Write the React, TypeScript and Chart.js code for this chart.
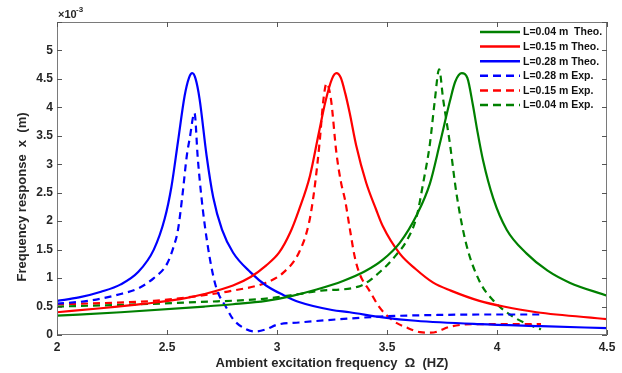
import React, { useEffect, useRef } from "react";
import { Chart, registerables } from "chart.js";

Chart.register(...registerables);

// Axis ticks (y values in units of 1e-3 m)
const xTickValues = [2, 2.5, 3, 3.5, 4, 4.5];
const yTickValues = [0, 0.5, 1, 1.5, 2, 2.5, 3, 3.5, 4, 4.5, 5, 5.5];

// L = 0.04 m theoretical
const theo004X = [2.0, 2.29, 2.67, 2.8, 2.95, 3.06, 3.18, 3.3, 3.4, 3.48, 3.558, 3.634, 3.695, 3.74, 3.786, 3.81, 3.84, 3.865, 3.89, 3.91, 3.937, 3.983, 4.044, 4.135, 4.23, 4.33, 4.5];
const theo004Y = [0.34, 0.4, 0.5, 0.54, 0.6, 0.68, 0.8, 0.95, 1.12, 1.32, 1.62, 2.1, 2.66, 3.36, 4.11, 4.45, 4.6, 4.52, 4.05, 3.6, 3.06, 2.4, 1.85, 1.43, 1.13, 0.92, 0.69];

// L = 0.15 m theoretical
const theo015X = [2.0, 2.2, 2.4, 2.56, 2.67, 2.8, 2.88, 2.95, 3.01, 3.06, 3.1, 3.15, 3.19, 3.22, 3.25, 3.27, 3.29, 3.31, 3.33, 3.36, 3.405, 3.45, 3.48, 3.56, 3.63, 3.71, 3.79, 3.92, 4.03, 4.18, 4.5];
const theo015Y = [0.4, 0.47, 0.55, 0.63, 0.72, 0.87, 1.02, 1.22, 1.45, 1.8, 2.2, 2.8, 3.55, 4.1, 4.5, 4.6, 4.52, 4.25, 3.91, 3.33, 2.68, 2.21, 1.92, 1.42, 1.16, 0.92, 0.78, 0.6, 0.5, 0.4, 0.28];

// L = 0.28 m theoretical
const theo028X = [2.0, 2.1, 2.2, 2.29, 2.37, 2.44, 2.49, 2.52, 2.55, 2.58, 2.6, 2.615, 2.63, 2.648, 2.68, 2.71, 2.75, 2.8, 2.88, 2.95, 3.03, 3.1, 3.25, 3.33, 3.48, 3.63, 3.92, 4.2, 4.5];
const theo028Y = [0.6, 0.66, 0.76, 0.89, 1.11, 1.5, 2.05, 2.6, 3.4, 4.2, 4.52, 4.6, 4.5, 4.15, 3.15, 2.42, 1.85, 1.45, 1.1, 0.87, 0.7, 0.58, 0.44, 0.4, 0.31, 0.25, 0.19, 0.155, 0.12];

// L = 0.28 m experimental
const exp028X = [2.0, 2.14, 2.29, 2.37, 2.44, 2.5, 2.53, 2.55, 2.57, 2.59, 2.603, 2.625, 2.64, 2.663, 2.694, 2.724, 2.77, 2.8, 2.86, 2.9, 2.95, 3.0, 3.1, 3.33, 3.5, 3.7, 3.92, 4.2];
const exp028Y = [0.55, 0.6, 0.72, 0.82, 1.0, 1.25, 1.55, 1.85, 2.45, 3.15, 3.45, 3.9, 3.1, 2.2, 1.36, 0.83, 0.48, 0.28, 0.1, 0.06, 0.1, 0.18, 0.22, 0.29, 0.33, 0.35, 0.36, 0.36];

// L = 0.15 m experimental
const exp015X = [2.0, 2.2, 2.44, 2.65, 2.8, 2.95, 3.03, 3.1, 3.146, 3.17, 3.194, 3.21, 3.225, 3.245, 3.27, 3.29, 3.31, 3.33, 3.354, 3.376, 3.42, 3.467, 3.528, 3.59, 3.65, 3.7, 3.79, 3.89, 4.2];
const exp015Y = [0.54, 0.56, 0.6, 0.69, 0.78, 0.92, 1.1, 1.45, 1.98, 2.56, 3.4, 4.1, 4.42, 4.15, 3.2, 2.7, 2.36, 1.89, 1.36, 1.07, 0.78, 0.48, 0.25, 0.13, 0.05, 0.04, 0.15, 0.19, 0.19];

// L = 0.04 m experimental
const exp004X = [2.0, 2.29, 2.65, 2.95, 3.1, 3.2, 3.37, 3.48, 3.54, 3.59, 3.634, 3.664, 3.695, 3.717, 3.737, 3.755, 3.786, 3.816, 3.86, 3.92, 3.98, 4.07, 4.165, 4.2];
const exp004Y = [0.5, 0.53, 0.58, 0.64, 0.72, 0.78, 0.85, 1.15, 1.4, 1.66, 2.07, 2.66, 3.36, 4.11, 4.67, 4.15, 3.36, 2.48, 1.6, 0.95, 0.62, 0.33, 0.15, 0.1];

const seriesLabels = [
  "L=0.04 m  Theo.",
  "L=0.15 m Theo.",
  "L=0.28 m Theo.",
  "L=0.28 m Exp.",
  "L=0.15 m Exp.",
  "L=0.04 m Exp.",
];
const GREEN = "#008000";
const RED = "#ff0000";
const BLUE = "#0000ff";
const seriesColors = [GREEN, RED, BLUE, BLUE, RED, GREEN];
const seriesDashed = [false, false, false, true, true, true];

const xTitle = "Ambient excitation frequency  \u03A9  (HZ)";
const yTitle = "Frequency response  x  (m)";

const FONT = "'Liberation Sans', Arial, Helvetica, sans-serif";
const TEXT = "#262626";
const DASH = [7, 5];

function pts(xs: number[], ys: number[]) {
  return xs.map((x, i) => ({ x, y: ys[i] }));
}

function fmt(v: number) {
  return String(Math.round(v * 10) / 10);
}

const decorPlugin = {
  id: "decor",
  afterDraw(chart: any) {
    const { ctx, chartArea: a, scales } = chart;
    const xs = scales.x;
    const ys = scales.y;
    ctx.save();
    // box
    ctx.strokeStyle = "#7a7a7a";
    ctx.lineWidth = 1;
    ctx.setLineDash([]);
    ctx.strokeRect(a.left + 0.5, a.top + 0.5, a.right - a.left - 1, a.bottom - a.top - 1);
    // inward ticks
    ctx.strokeStyle = "#555555";
    ctx.beginPath();
    xTickValues.forEach((v) => {
      const p = Math.round(xs.getPixelForValue(v)) + 0.5;
      ctx.moveTo(p, a.bottom);
      ctx.lineTo(p, a.bottom - 5);
      ctx.moveTo(p, a.top);
      ctx.lineTo(p, a.top + 5);
    });
    yTickValues.forEach((v) => {
      const p = Math.round(ys.getPixelForValue(v)) + 0.5;
      ctx.moveTo(a.left, p);
      ctx.lineTo(a.left + 5, p);
      ctx.moveTo(a.right, p);
      ctx.lineTo(a.right - 5, p);
    });
    ctx.stroke();

    // exponent label
    ctx.fillStyle = TEXT;
    ctx.textAlign = "left";
    ctx.textBaseline = "alphabetic";
    ctx.font = `bold 11px ${FONT}`;
    ctx.fillText("\u00D710", a.left + 1, 18);
    ctx.font = `bold 8px ${FONT}`;
    ctx.fillText("-3", a.left + 19, 12);

    // y title
    ctx.save();
    ctx.translate(22, 197);
    ctx.rotate(-Math.PI / 2);
    ctx.font = `bold 13px ${FONT}`;
    ctx.textAlign = "center";
    ctx.textBaseline = "middle";
    ctx.fillText(yTitle, 0, 0);
    ctx.restore();

    // legend
    const rowY0 = 32;
    const rowStep = 14.6;
    seriesLabels.forEach((lab, i) => {
      const y = rowY0 + i * rowStep;
      ctx.beginPath();
      ctx.strokeStyle = seriesColors[i];
      ctx.lineWidth = 2.5;
      ctx.setLineDash(seriesDashed[i] ? [8, 5] : []);
      ctx.moveTo(480, y);
      ctx.lineTo(520, y);
      ctx.stroke();
      ctx.setLineDash([]);
      ctx.fillStyle = "#111111";
      ctx.font = `bold 10.5px ${FONT}`;
      ctx.textAlign = "left";
      ctx.textBaseline = "middle";
      ctx.fillText(lab, 523, y + 0.5);
    });
    ctx.restore();
  },
};

export default function App() {
  const ref = useRef<HTMLCanvasElement | null>(null);
  useEffect(() => {
    document.body.style.margin = "0";
    const canvas = ref.current;
    if (!canvas) return;
    const seriesData = [
      pts(theo004X, theo004Y),
      pts(theo015X, theo015Y),
      pts(theo028X, theo028Y),
      pts(exp028X, exp028Y),
      pts(exp015X, exp015Y),
      pts(exp004X, exp004Y),
    ];
    const chart = new Chart(canvas, {
      type: "line",
      data: {
        datasets: seriesData.map((d, i) => ({
          label: seriesLabels[i],
          data: d,
          borderColor: seriesColors[i],
          backgroundColor: seriesColors[i],
          borderWidth: 2.2,
          borderDash: seriesDashed[i] ? DASH : [],
          pointRadius: 0,
          fill: false,
          tension: 0.4,
          cubicInterpolationMode: "monotone",
        })),
      },
      options: {
        responsive: false,
        animation: false,
        devicePixelRatio: 1,
        layout: { padding: { left: 0, top: 22, right: 15, bottom: 0 } },
        plugins: {
          legend: { display: false },
          tooltip: { enabled: false },
        },
        scales: {
          x: {
            type: "linear",
            min: 2,
            max: 4.5,
            afterBuildTicks: (s: any) => {
              s.ticks = xTickValues.map((v) => ({ value: v }));
            },
            ticks: {
              color: TEXT,
              font: { family: FONT, size: 12, weight: "bold" },
              padding: 5,
              maxRotation: 0,
              autoSkip: false,
              callback: (v: any) => fmt(Number(v)),
            },
            grid: { display: false, drawTicks: false },
            border: { display: false },
            title: {
              display: true,
              text: xTitle,
              color: TEXT,
              font: { family: FONT, size: 13, weight: "bold" },
              padding: { top: 0, bottom: 2 },
            },
            afterFit: (s: any) => {
              s.height = 38;
            },
          },
          y: {
            type: "linear",
            min: 0,
            max: 5.5,
            afterBuildTicks: (s: any) => {
              s.ticks = yTickValues.map((v) => ({ value: v }));
            },
            ticks: {
              color: TEXT,
              font: { family: FONT, size: 12, weight: "bold" },
              padding: 4,
              autoSkip: false,
              callback: (v: any) => (Number(v) >= 5.5 ? "" : fmt(Number(v))),
            },
            grid: { display: false, drawTicks: false },
            border: { display: false },
            afterFit: (s: any) => {
              s.width = 57;
            },
          },
        },
      },
      plugins: [decorPlugin],
    } as any);
    return () => chart.destroy();
  }, []);
  return (
    <div style={{ width: 622, height: 373, background: "#ffffff" }}>
      <canvas ref={ref} width={622} height={373} style={{ display: "block" }} />
    </div>
  );
}
